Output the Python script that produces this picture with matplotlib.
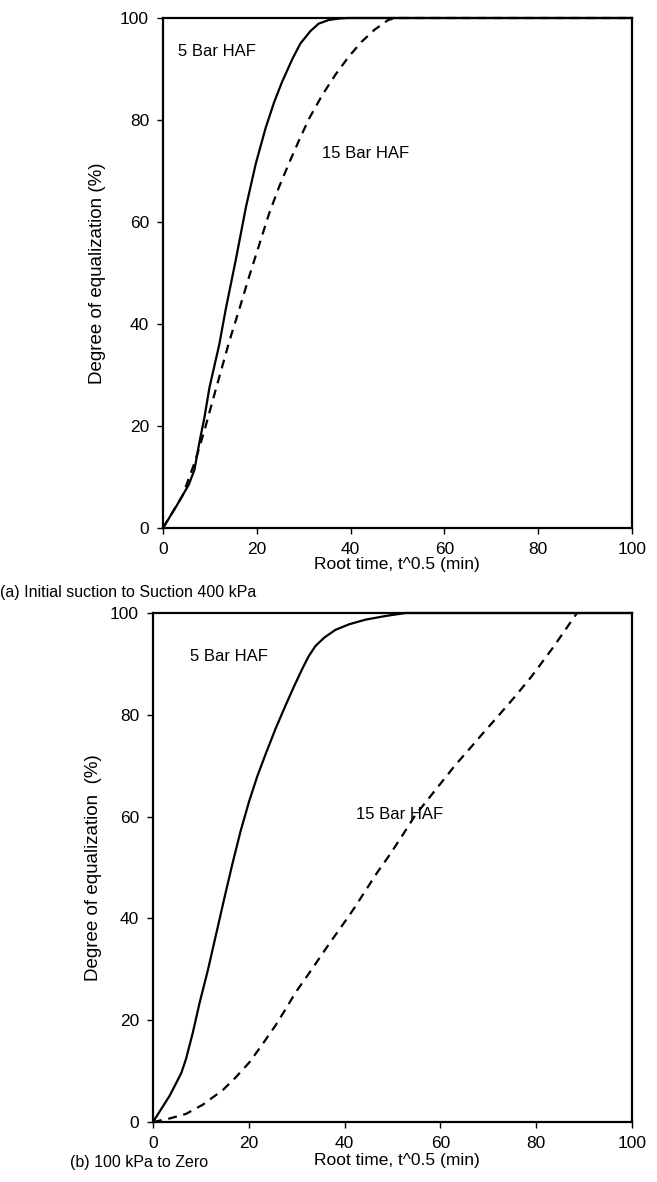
import matplotlib.pyplot as plt

plt.rcParams['font.family'] = ['Liberation Sans', 'DejaVu Sans']

# (a) initial suction to suction 400 kPa
a_5bar_x = [0, 2.8, 5.5, 6.7, 7.8, 8.8, 9.9, 12.0, 13.4, 15.5, 17.7, 19.8, 21.9, 23.7,
            25.4, 27.6, 29.3, 31.4, 33.2, 35.3, 37.5, 39.6, 100]
a_5bar_y = [0, 4.2, 8.5, 11.4, 17.0, 21.5, 27.5, 36.0, 43.0, 52.5, 63.0, 71.5, 78.5, 83.5,
            87.5, 92.0, 95.0, 97.4, 98.9, 99.6, 99.9, 100, 100]
a_15bar_x = [0, 4.2, 7.0, 8.8, 10.6, 14.1, 16.3, 18.4, 20.5, 22.6, 24.8, 26.9, 29.0, 31.1,
             33.9, 36.7, 39.5, 42.3, 45.1, 48.0, 49.5, 100]
a_15bar_y = [0, 6.4, 13.5, 19.0, 25.0, 36.5, 43.0, 49.4, 55.5, 61.6, 67.0, 71.6, 76.0, 80.2,
             84.8, 88.8, 92.3, 95.3, 97.7, 99.6, 100, 100]

# (b) 100 kPa to zero
b_5bar_x = [0, 3.5, 5.9, 6.9, 8.3, 9.7, 11.5, 13.2, 14.9, 16.6, 18.3, 20.1, 21.8, 23.6,
            25.6, 27.7, 29.5, 31.2, 32.5, 33.9, 35.8, 38.1, 41.0, 44.4, 48.5, 52.7, 100]
b_5bar_y = [0, 5.2, 9.6, 12.4, 17.5, 23.3, 30.0, 37.0, 44.0, 50.8, 57.2, 63.1, 68.0, 72.5,
            77.3, 81.9, 85.7, 89.1, 91.5, 93.5, 95.2, 96.7, 97.8, 98.7, 99.4, 100, 100]
b_15bar_x = [0, 3.5, 6.9, 10.4, 14.6, 17.3, 20.1, 22.8, 25.6, 27.7, 29.8, 32.2, 34.6, 37.0,
             39.5, 42.0, 44.4, 46.8, 49.2, 52.0, 54.7, 57.5, 60.3, 63.0, 65.8, 69.0, 72.1,
             75.5, 79.0, 83.5, 88.0, 88.5]
b_15bar_y = [0, 0.7, 1.6, 3.4, 6.3, 8.8, 11.7, 15.2, 19.0, 22.2, 25.5, 28.7, 32.0, 35.3,
             38.6, 42.0, 45.5, 49.0, 52.2, 56.2, 60.2, 63.5, 66.8, 70.0, 73.0, 76.5, 79.8,
             83.5, 87.5, 93.2, 99.3, 100]

ticks = [0, 20, 40, 60, 80, 100]

fig = plt.figure(figsize=(6.57, 11.82), dpi=100)
W, H = 657, 1182
ax1 = fig.add_axes([163 / W, 1 - 528 / H, 469 / W, 510 / H])
ax2 = fig.add_axes([153 / W, 1 - 1122 / H, 479 / W, 509 / H])

fs = 12
for ax in (ax1, ax2):
    ax.set_xlim(0, 100)
    ax.set_ylim(0, 100)
    ax.set_xticks(ticks)
    ax.set_yticks(ticks)
    ax.tick_params(direction='out', length=4, width=1, labelsize=12.5, pad=6)
    for s in ax.spines.values():
        s.set_linewidth(1.6)

ax1.plot(a_5bar_x, a_5bar_y, '-', color='black', lw=1.6, clip_on=False)
ax1.plot(a_15bar_x, a_15bar_y, '--', color='black', lw=1.6, dashes=(4, 3), clip_on=False)
ax1.text(3.2, 93.5, '5 Bar HAF', fontsize=fs, va='center')
ax1.text(34, 73.5, '15 Bar HAF', fontsize=fs, va='center')
ax1.set_ylabel('Degree of equalization (%)', fontsize=13.5, labelpad=10)

ax2.plot(b_5bar_x, b_5bar_y, '-', color='black', lw=1.6, clip_on=False)
ax2.plot(b_15bar_x, b_15bar_y, '--', color='black', lw=1.6, dashes=(4, 3), clip_on=False)
ax2.text(7.7, 91.5, '5 Bar HAF', fontsize=fs, va='center')
ax2.text(42.4, 60.5, '15 Bar HAF', fontsize=fs, va='center')
ax2.set_ylabel('Degree of equalization  (%)', fontsize=13.5, labelpad=6)

# axis titles and panel captions sit below each panel
fig.text(397 / W, 1 - 565 / H, 'Root time, t^0.5 (min)', fontsize=12.5, ha='center', va='center')
fig.text(0 / W, 1 - 593 / H, '(a) Initial suction to Suction 400 kPa', fontsize=11.5, ha='left', va='center')
fig.text(397 / W, 1 - 1160 / H, 'Root time, t^0.5 (min)', fontsize=12.5, ha='center', va='center')
fig.text(70 / W, 1 - 1162 / H, '(b) 100 kPa to Zero', fontsize=11.5, ha='left', va='center')

fig.savefig('out.png', dpi=100)
